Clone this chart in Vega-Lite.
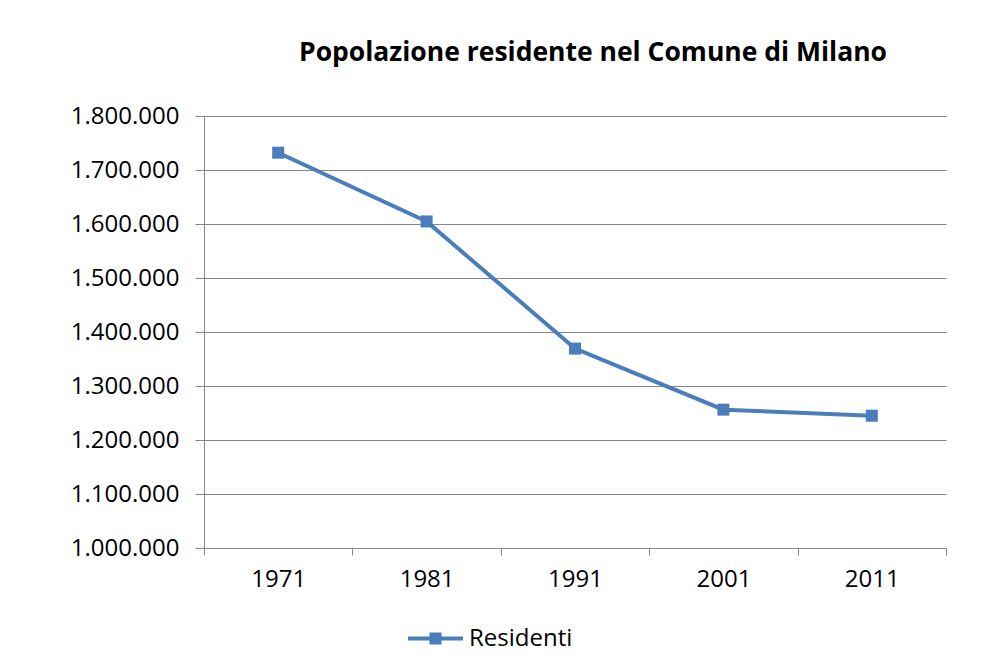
{
  "$schema": "https://vega.github.io/schema/vega-lite/v6.json",
  "width": 742,
  "height": 432,
  "autosize": "none",
  "padding": {"left": 204, "top": 116, "right": 47, "bottom": 123},
  "background": "white",
  "config": {
    "locale": {"number": {"decimal": ",", "thousands": ".", "grouping": [3], "currency": ["€", ""]}},
    "view": {"stroke": null},
    "font": "Open Sans"
  },
  "title": {
    "text": "Popolazione residente nel Comune di Milano",
    "font": "Open Sans",
    "fontWeight": "bold",
    "fontSize": 26.5,
    "color": "black",
    "anchor": "middle",
    "frame": "group",
    "baseline": "alphabetic",
    "dx": 18,
    "offset": 17
  },
  "data": {
    "values": [
      {"Anno": 1971, "Popolazione": 1732000, "Serie": "Residenti"},
      {"Anno": 1981, "Popolazione": 1604773, "Serie": "Residenti"},
      {"Anno": 1991, "Popolazione": 1369231, "Serie": "Residenti"},
      {"Anno": 2001, "Popolazione": 1256211, "Serie": "Residenti"},
      {"Anno": 2011, "Popolazione": 1245000, "Serie": "Residenti"}
    ]
  },
  "mark": {
    "type": "line",
    "strokeWidth": 4,
    "point": {"shape": "square", "size": 144, "filled": true, "opacity": 1, "color": "#4A7EBB"}
  },
  "encoding": {
    "x": {
      "field": "Anno",
      "type": "quantitative",
      "scale": {"domain": [1966, 2016], "nice": false, "zero": false},
      "axis": {
        "title": null,
        "grid": false,
        "values": [1966, 1971, 1976, 1981, 1986, 1991, 1996, 2001, 2006, 2011, 2016],
        "format": "d",
        "labelExpr": "datum.value % 10 == 1 ? datum.label : ''",
        "tickOpacity": {"condition": {"test": "datum.value % 10 == 1", "value": 0}, "value": 1},
        "tickSize": 7,
        "tickColor": "#868686",
        "domainColor": "#868686",
        "labelFont": "Open Sans",
        "labelFontSize": 24,
        "labelColor": "black",
        "labelPadding": 12,
        "labelOverlap": false,
        "labelFlush": false,
        "labelBound": false
      }
    },
    "y": {
      "field": "Popolazione",
      "type": "quantitative",
      "scale": {"domain": [1000000, 1800000], "nice": false, "zero": false},
      "axis": {
        "title": null,
        "values": [1000000, 1100000, 1200000, 1300000, 1400000, 1500000, 1600000, 1700000, 1800000],
        "format": ",d",
        "gridColor": "#868686",
        "gridOpacity": 1,
        "tickSize": 9,
        "tickColor": "#868686",
        "domainColor": "#868686",
        "labelFont": "Open Sans",
        "labelFontSize": 24,
        "labelColor": "black",
        "labelPadding": 16,
        "labelOverlap": false,
        "labelFlush": false,
        "labelBound": false
      }
    },
    "color": {
      "field": "Serie",
      "type": "nominal",
      "scale": {"range": ["#4A7EBB"]},
      "legend": {
        "title": null,
        "orient": "none",
        "legendX": 204,
        "legendY": 495,
        "padding": 0,
        "symbolType": "M-1,-0.07H1V0.07H-1Z M-0.22,-0.22H0.22V0.22H-0.22Z",
        "symbolSize": 3025,
        "labelFont": "Open Sans",
        "labelFontSize": 24,
        "labelColor": "black",
        "labelOffset": 6,
        "encode": {
          "symbols": {"update": {"fill": {"value": "#4A7EBB"}, "stroke": {"value": "#4A7EBB"}, "strokeWidth": {"value": 0}, "opacity": {"value": 1}}}
        }
      }
    }
  }
}
